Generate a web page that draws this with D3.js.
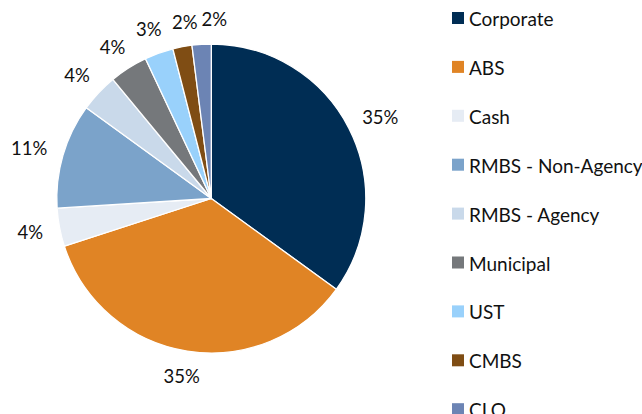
<!DOCTYPE html>
<html><head><meta charset="utf-8">
<script src="https://cdn.jsdelivr.net/npm/d3@7"></script>
<style>
html,body{margin:0;padding:0;background:#fff;overflow:hidden}
text{font-family:Lato,"Open Sans",sans-serif;fill:#111}
</style></head>
<body>
<svg id="chart" width="642" height="414"></svg>
<script>
const categories = ["Corporate","ABS","Cash","RMBS - Non-Agency","RMBS - Agency","Municipal","UST","CMBS","CLO"];
const values = [35,35,4,11,4,4,3,2,2];
const colors = ["#002D54","#E08425","#E6ECF4","#7BA3CA","#C9D9EA","#75787B","#99D1FB","#7F4D14","#6C84B4"];

const W=642,H=414, cx=211.3, cy=198.5, R=154.5;
const svg=d3.select("#chart");
const data=categories.map((c,i)=>({name:c,value:values[i],color:colors[i]}));
const total=d3.sum(values);
const pie=d3.pie().value(d=>d.value).sort(null);
const arcs=pie(data);
const arc=d3.arc().innerRadius(0).outerRadius(R);
const g=svg.append("g").attr("transform",`translate(${cx},${cy})`);
g.selectAll("path").data(arcs).join("path")
  .attr("d",arc).attr("fill",d=>d.data.color)
  .attr("stroke","#fff").attr("stroke-width",1.3).attr("stroke-linejoin","round");

// labels
const fs=18.5, gap=17, hh=8.5;
const labels=arcs.map(a=>{
  const m=(a.startAngle+a.endAngle)/2;
  const dx=Math.sin(m), dy=-Math.cos(m);
  const txt=Math.round(a.data.value/total*100)+"%";
  return {a,txt,dx,dy};
});
const lg=g.append("g");
const tsel=lg.selectAll("text").data(labels).join("text")
  .attr("font-size",fs).attr("text-anchor","middle").attr("dominant-baseline","central")
  .text(d=>d.txt);
tsel.each(function(d){
  const w=this.getComputedTextLength();
  d.w=w;
  d.x=d.dx*(R+gap)+d.dx*w/2;
  d.y=d.dy*(R+gap)+d.dy*hh;
});
// resolve overlaps: nudge crowded labels clockwise (to the right at the top)
for(let i=labels.length-1;i>0;i--){
  const a=labels[i], b=labels[i-1];
  if(Math.abs(a.y-b.y)<2*hh && Math.abs(a.x-b.x)<(a.w+b.w)/2+4){
    const need=(a.w+b.w)/2+4 - Math.abs(a.x-b.x);
    a.x+=need+8; b.x+=8;
  }
}
tsel.attr("x",d=>d.x).attr("y",d=>d.y);

// legend
const leg=svg.append("g").attr("transform","translate(452,18)");
const item=leg.selectAll("g").data(data).join("g").attr("transform",(d,i)=>`translate(0,${i*48.9})`);
item.append("rect").attr("x",0).attr("y",-6).attr("width",12).attr("height",12).attr("fill",d=>d.color);
item.append("text").attr("x",17).attr("y",0.5).attr("dominant-baseline","central").attr("font-size",19).text(d=>d.name);
</script>
</body></html>
